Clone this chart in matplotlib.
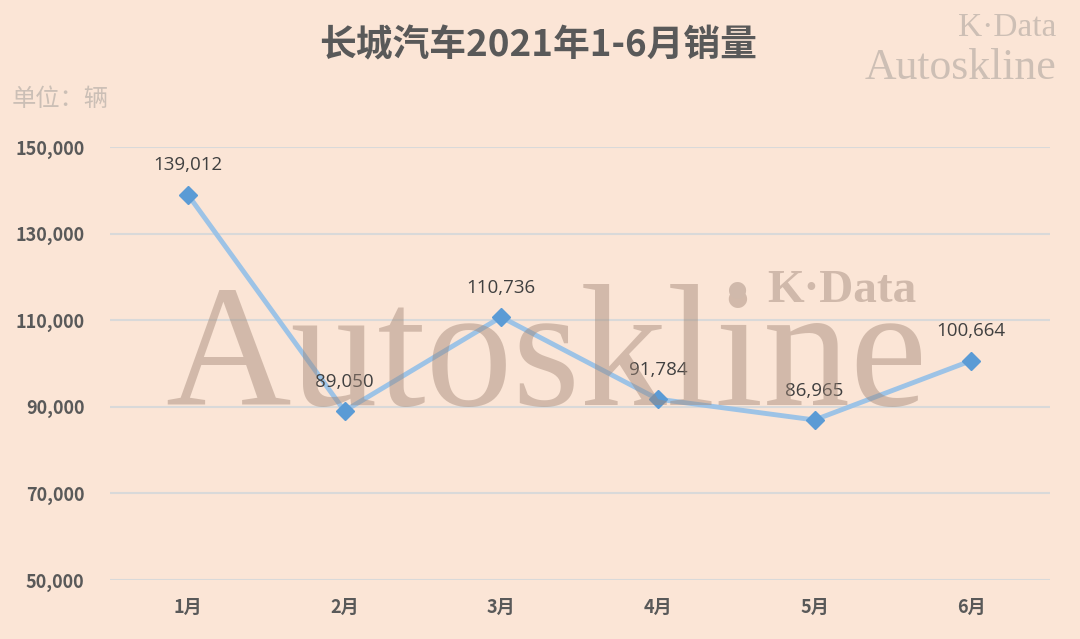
import matplotlib.pyplot as plt

plt.rcParams['font.family'] = ['Noto Sans CJK SC', 'DejaVu Sans']

months = ['1月', '2月', '3月', '4月', '5月', '6月']
sales = [139012, 89050, 110736, 91784, 86965, 100664]
yticks = [50000, 70000, 90000, 110000, 130000, 150000]

bg = '#FBE5D6'
fig = plt.figure(figsize=(10.8, 6.39), dpi=100, facecolor=bg)
ax = fig.add_axes([0.1014, 0.0923, 0.8704, 0.6776], facecolor=bg)

x = range(len(months))
ax.plot(x, sales, color='#9DC3E6', lw=3.5, zorder=3)
ax.plot(x, sales, ls='none', marker='D', ms=9, color='#5B9BD5', zorder=4)
for i, v in zip(x, sales):
    ax.annotate(f'{v:,}', (i, v), xytext=(0, 21), textcoords='offset points',
                ha='center', va='center', fontsize=13.5, color='#404040',
                family=['Open Sans', 'DejaVu Sans'])

ax.set_xlim(-0.5, 5.5)
ax.set_ylim(50000, 150000)
ax.set_yticks(yticks)
ax.set_yticklabels([f'{t:,}' for t in yticks], fontsize=13, fontweight='bold', color='#595959')
ax.set_xticks(list(x))
ax.set_xticklabels(months, fontsize=13, fontweight='bold', color='#595959')
ax.tick_params(length=0, axis='y', pad=18)
ax.tick_params(length=0, axis='x', pad=13)
ax.grid(axis='y', color='#D9D9D9', lw=1.5)
for s in ax.spines.values():
    s.set_visible(False)

# 标题和水印
fig.text(0.498, 0.928, '长城汽车2021年1-6月销量', ha='center', va='center',
         fontsize=26.5, fontweight='bold', color='#595959')
fig.text(0.011, 0.845, '单位：辆', ha='left', va='center', fontsize=17.5, color='#CBBFB6')
fig.text(0.153, 0.366, 'Autoskline', ha='left', va='baseline', fontsize=125,
         family='Liberation Serif', color='#A08575', alpha=0.45, zorder=0)
fig.text(0.671, 0.509, '•', ha='left', va='baseline', fontsize=52,
         family='Liberation Serif', color='#D0B9AB')
fig.text(0.710, 0.527, 'K·Data', ha='left', va='baseline', fontsize=34, fontweight='bold',
         family='Liberation Serif', color='#D0B9AB')
fig.text(0.978, 0.943, 'K·Data', ha='right', va='baseline', fontsize=24,
         family='Liberation Serif', color='#CDBFB5')
fig.text(0.978, 0.877, 'Autoskline', ha='right', va='baseline', fontsize=31.5,
         family='Liberation Serif', color='#CDBFB5')

fig.savefig('out.png', dpi=100, facecolor=bg)
